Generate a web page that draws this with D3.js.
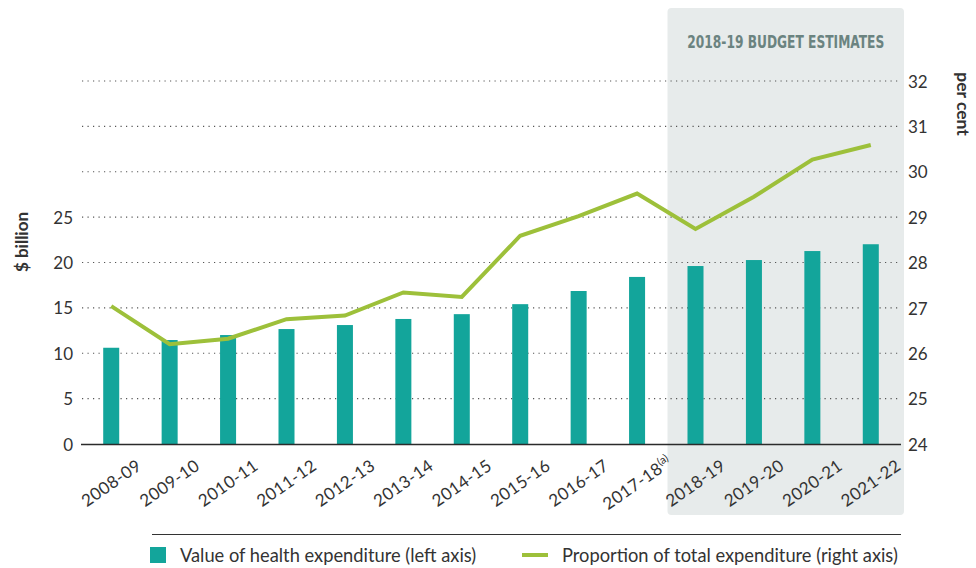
<!DOCTYPE html>
<html><head><meta charset="utf-8">
<script src="https://cdn.jsdelivr.net/npm/d3@7"></script>
<style>
body{margin:0;background:#fff;}
svg{display:block;font-family:Lato,"Open Sans",sans-serif;}
</style></head><body>
<svg id="c" width="976" height="568"></svg>
<script>
const categories = ["2008-09","2009-10","2010-11","2011-12","2012-13","2013-14","2014-15","2015-16","2016-17","2017-18","2018-19","2019-20","2020-21","2021-22"];
const healthValue = [10.6,11.45,12.0,12.66,13.1,13.77,14.3,15.4,16.85,18.4,19.6,20.26,21.25,22.0];
const proportion = [27.04,26.2,26.32,26.75,26.83,27.34,27.24,28.59,29.02,29.52,28.74,29.45,30.27,30.59];
const leftTicks = [0,5,10,15,20,25];
const rightTicks = [24,25,26,27,28,29,30,31,32];
const estimateStart = "2018-19";

const svg = d3.select("#c");
const x = d3.scaleBand().domain(categories).range([82,900]).paddingInner(0.726).paddingOuter(0.363);
const yL = d3.scaleLinear().domain([0,25]).range([444,217]);
const yR = d3.scaleLinear().domain([24,32]).range([444,81]);
const cx = d => x(d) + x.bandwidth()/2;

// shaded estimates panel
const px0 = cx(estimateStart) - 28;
svg.append("rect").attr("x",px0).attr("y",8).attr("width",904-px0).attr("height",507)
  .attr("rx",4).attr("fill","#e7ebeb");
svg.append("text").attr("x",(px0+904)/2).attr("y",48).attr("text-anchor","middle")
  .attr("font-family","'DejaVu Sans Condensed','DejaVu Sans',sans-serif").attr("font-weight","bold")
  .attr("font-size",17).attr("fill","#6b8380").attr("textLength",197).attr("lengthAdjust","spacingAndGlyphs")
  .text("2018-19 BUDGET ESTIMATES");

// gridlines
svg.append("g").selectAll("line").data(rightTicks.slice(1)).join("line")
  .attr("x1",82).attr("x2",900).attr("y1",d=>yR(d)).attr("y2",d=>yR(d))
  .attr("stroke","#555").attr("stroke-width",1.2).attr("stroke-dasharray","1.2,4.3");

// bars
svg.append("g").selectAll("rect").data(healthValue).join("rect")
  .attr("x",(d,i)=>x(categories[i])).attr("width",x.bandwidth())
  .attr("y",d=>yL(d)).attr("height",d=>yL(0)-yL(d)).attr("fill","#13a59b");

// baseline
svg.append("line").attr("x1",81).attr("x2",901).attr("y1",444.5).attr("y2",444.5)
  .attr("stroke","#2b2b2b").attr("stroke-width",1.6);

// line
const line = d3.line().x((d,i)=>cx(categories[i])).y(d=>yR(d));
svg.append("path").datum(proportion).attr("d",line).attr("fill","none")
  .attr("stroke","#9dc03a").attr("stroke-width",4).attr("stroke-linejoin","miter");

// left axis
const axL = d3.axisLeft(yL).tickValues(leftTicks).tickSize(0).tickPadding(0);
const gL = svg.append("g").attr("transform","translate(73,0)").call(axL);
gL.select(".domain").remove();
gL.selectAll("text").attr("font-size",17).attr("fill","#333").attr("font-family","Lato,'Open Sans',sans-serif").attr("dy","0.36em");

// right axis
const axR = d3.axisRight(yR).tickValues(rightTicks).tickSize(0).tickPadding(0);
const gR = svg.append("g").attr("transform","translate(908,0)").call(axR);
gR.select(".domain").remove();
gR.selectAll("text").attr("font-size",17).attr("fill","#333").attr("font-family","Lato,'Open Sans',sans-serif").attr("dy","0.36em");

// x labels (centred under each bar, rotated)
const xl = svg.append("g").selectAll("text").data(categories).join("text")
  .attr("transform",d=>`translate(${cx(d)},483) rotate(-35)`)
  .attr("text-anchor","middle").attr("dy","0.35em")
  .attr("font-size",17).attr("letter-spacing",0.4).attr("fill","#333");
xl.each(function(d){
  const t = d3.select(this);
  if(d==="2017-18"){
    t.append("tspan").text(d);
    t.append("tspan").attr("font-size",11).attr("letter-spacing",0).attr("dy","-0.6em").text("(a)");
  } else t.text(d);
});

// axis titles
svg.append("text").attr("transform","translate(28,242) rotate(-90)").attr("text-anchor","middle")
  .attr("font-weight","bold").attr("font-size",17).attr("fill","#333").text("$ billion");
svg.append("text").attr("transform","translate(957,104) rotate(90)").attr("text-anchor","middle")
  .attr("font-weight","bold").attr("font-size",17.5).attr("fill","#333").text("per cent");

// legend
svg.append("line").attr("x1",152).attr("x2",901).attr("y1",534.5).attr("y2",534.5).attr("stroke","#333").attr("stroke-width",1.2);
svg.append("rect").attr("x",150).attr("y",547).attr("width",16).attr("height",16).attr("fill","#13a59b");
svg.append("text").attr("x",180).attr("y",562).attr("font-size",18.3).attr("fill","#333").text("Value of health expenditure (left axis)");
svg.append("line").attr("x1",522).attr("x2",548).attr("y1",555).attr("y2",555).attr("stroke","#9dc03a").attr("stroke-width",4);
svg.append("text").attr("x",562).attr("y",562).attr("font-size",18.3).attr("fill","#333").text("Proportion of total expenditure (right axis)");
</script></body></html>
